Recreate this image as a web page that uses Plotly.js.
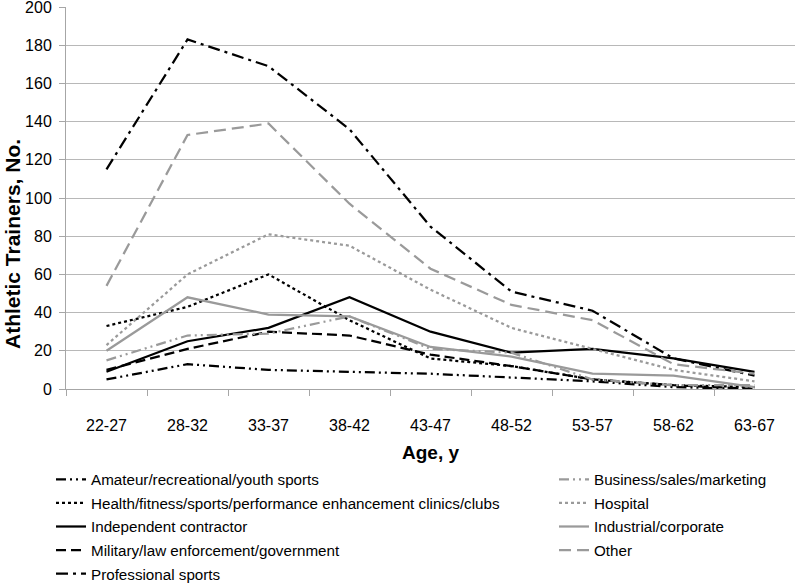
<!DOCTYPE html>
<html>
<head>
<meta charset="utf-8">
<script src="https://cdn.plot.ly/plotly-3.0.1.min.js"></script>
<style>html,body{margin:0;padding:0;background:#fff;}#chart{width:795px;height:584px;}</style>
</head>
<body>
<div id="chart"></div>
<script>
const categories = ['22-27','28-32','33-37','38-42','43-47','48-52','53-57','58-62','63-67'];

const amateur      = [5, 13, 10, 9, 8, 6, 4, 1, 0];
const business     = [15, 28, 29, 38, 21, 19, 5, 2, 2];
const health       = [33, 43, 60, 36, 16, 12, 5, 2, 1];
const hospital     = [23, 60, 81, 75, 52, 32, 21, 10, 4];
const independent  = [9, 25, 32, 48, 30, 19, 21, 16, 9];
const industrial   = [20, 48, 39, 38, 22, 17, 8, 7, 1];
const military     = [10, 21, 30, 28, 18, 12, 5, 2, 0];
const other        = [54, 133, 139, 97, 63, 44, 36, 13, 8];
const professional = [115, 183, 169, 136, 85, 51, 41, 16, 7];

const yTickVals = [0, 20, 40, 60, 80, 100, 120, 140, 160, 180, 200];

const BLACK = '#000000';
const GRAY = '#9a9a9a';
const FONT = 'Liberation Sans, Arial, sans-serif';

function tr(name, y, color, dash, legend) {
  return {
    type: 'scatter', mode: 'lines', name: name, x: categories, y: y,
    line: {color: color, width: 2.25, dash: dash},
    legend: legend, legendgroup: name, hoverinfo: 'skip'
  };
}

const data = [
  tr('Amateur/recreational/youth sports', amateur, BLACK, '10px,4px,2px,4px,2px,4px', 'legend'),
  tr('Health/fitness/sports/performance enhancement clinics/clubs', health, BLACK, '3px,3px', 'legend'),
  tr('Independent contractor', independent, BLACK, 'solid', 'legend'),
  tr('Military/law enforcement/government', military, BLACK, '10px,5px', 'legend'),
  tr('Professional sports', professional, BLACK, '12px,5px,3px,5px', 'legend'),
  tr('Business/sales/marketing', business, GRAY, '10px,4px,2px,4px,2px,4px', 'legend2'),
  tr('Hospital', hospital, GRAY, '3px,3px', 'legend2'),
  tr('Industrial/corporate', industrial, GRAY, 'solid', 'legend2'),
  tr('Other', other, GRAY, '12px,6px', 'legend2')
];

const legendCommon = {
  xref: 'container', yref: 'container', xanchor: 'left', yanchor: 'top',
  orientation: 'v', tracegroupgap: 0.8, bgcolor: 'rgba(0,0,0,0)',
  font: {family: FONT, size: 15.2, color: '#000'}, itemclick: false
};

const layout = {
  width: 795, height: 584,
  margin: {l: 66, r: 0, t: 7, b: 195, autoexpand: false},
  paper_bgcolor: '#ffffff', plot_bgcolor: '#ffffff',
  font: {family: FONT, color: '#000'},
  showlegend: true,
  legend: Object.assign({}, legendCommon, {x: 51/795, y: 1 - 463/584}),
  legend2: Object.assign({}, legendCommon, {x: 554/795, y: 1 - 463/584}),
  xaxis: {
    type: 'category', range: [-0.5, 8.5], automargin: false,
    tickson: 'boundaries', ticks: 'outside', ticklen: 6, tickcolor: '#a6a6a6', tickwidth: 1,
    showline: true, linecolor: '#a6a6a6', linewidth: 1,
    showgrid: false, zeroline: false, tickangle: 0,
    tickfont: {family: FONT, size: 16, color: '#000'},
    ticklabelstandoff: 22,
    title: {text: '<b>Age, y</b>', font: {family: FONT, size: 19, color: '#000'}, standoff: 12}
  },
  yaxis: {
    range: [0, 200], tickvals: yTickVals, ticktext: yTickVals.map(String), automargin: false,
    ticks: 'outside', ticklen: 6, tickcolor: '#a6a6a6', tickwidth: 1,
    showline: true, linecolor: '#a6a6a6', linewidth: 1,
    showgrid: true, gridcolor: '#b8b8b8', gridwidth: 1, zeroline: false,
    tickfont: {family: FONT, size: 16, color: '#000'},
    ticklabelstandoff: 4, ticklabeloverflow: 'allow'
  },
  annotations: [{
    text: '<b>Athletic Trainers, No.</b>', textangle: -90,
    xref: 'paper', yref: 'paper', x: (13 - 66) / 729, y: (389 - 244) / 382,
    xanchor: 'center', yanchor: 'middle', showarrow: false,
    font: {family: FONT, size: 21, color: '#000'}
  }]
};

Plotly.newPlot('chart', data, layout, {displayModeBar: false, staticPlot: true});
</script>
</body>
</html>
